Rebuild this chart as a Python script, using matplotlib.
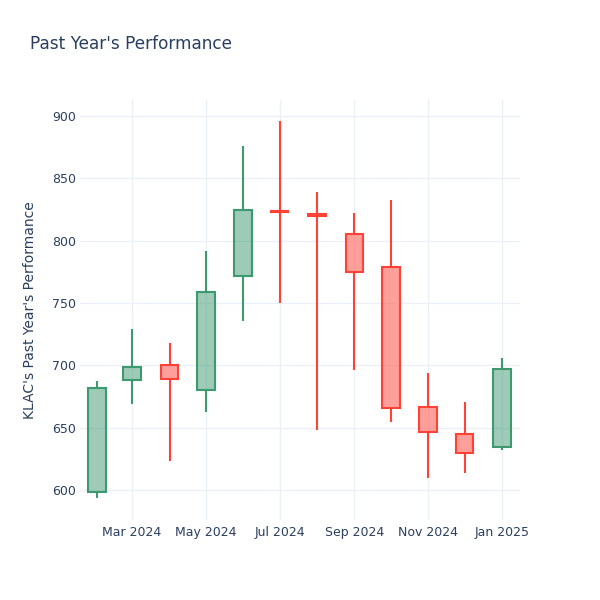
import matplotlib
matplotlib.use("Agg")
from matplotlib import pyplot as plt
from matplotlib.patches import Rectangle
import matplotlib.dates as mdates
import pandas as pd

dates = pd.date_range("2024-02-01", periods=12, freq="MS")
opens = [598.6, 688.2, 700.3, 680.2, 771.7, 823.5, 821.3, 805.3, 778.6, 666.8, 645.2, 634.3]
highs = [687.4, 728.9, 717.7, 791.7, 876.2, 896.0, 839.3, 822.0, 832.6, 694.1, 670.4, 705.6]
lows = [593.3, 668.7, 623.3, 662.3, 735.8, 750.0, 648.0, 696.3, 654.8, 609.4, 613.4, 632.1]
closes = [682.0, 698.4, 689.0, 759.1, 824.6, 823.0, 819.6, 774.6, 665.5, 646.5, 629.7, 697.3]

up_line = "#3D9970"
down_line = "#FF4136"
text_col = "#2a3f5f"
grid_col = "#EBF0F8"

fig = plt.figure(figsize=(6, 6), dpi=100)
ax = fig.add_axes([80 / 600, 80 / 600, 440 / 600, 420 / 600])

xs = mdates.date2num(dates)
half = 7.3
for x, o, h, l, c in zip(xs, opens, highs, lows, closes):
    col = up_line if c >= o else down_line
    top, bot = max(o, c), min(o, c)
    # wicks above and below the body
    ax.plot([x, x], [top, h], color=col, lw=1.5, solid_capstyle="butt", zorder=3)
    ax.plot([x, x], [l, bot], color=col, lw=1.5, solid_capstyle="butt", zorder=3)
    ax.add_patch(Rectangle((x - half, bot), 2 * half, top - bot,
                           facecolor=col, alpha=0.5, edgecolor="none", zorder=3))
    ax.add_patch(Rectangle((x - half, bot), 2 * half, top - bot,
                           facecolor="none", edgecolor=col, lw=1.5, zorder=4))

ax.set_xlim(xs[0] - 14.06, xs[-1] + 14.9)
ax.set_ylim(575.9, 912.8)

ax.set_yticks([600, 650, 700, 750, 800, 850, 900])
tick_dates = pd.to_datetime(["2024-03-01", "2024-05-01", "2024-07-01",
                             "2024-09-01", "2024-11-01", "2025-01-01"])
ax.set_xticks(mdates.date2num(tick_dates))
ax.set_xticklabels([d.strftime("%b %Y") for d in tick_dates])

ax.grid(True, color=grid_col, lw=1)
ax.set_axisbelow(True)
for s in ax.spines.values():
    s.set_visible(False)
ax.tick_params(length=0, colors=text_col, labelsize=9)
ax.tick_params(axis="y", pad=3)
ax.tick_params(axis="x", pad=4)

ax.set_ylabel("KLAC's Past Year's Performance", fontsize=10, color=text_col, labelpad=11)
fig.text(30 / 600, 1 - 44 / 600, "Past Year's Performance", fontsize=12.2,
         color=text_col, va="center", ha="left")

fig.savefig("out.png", dpi=100)
